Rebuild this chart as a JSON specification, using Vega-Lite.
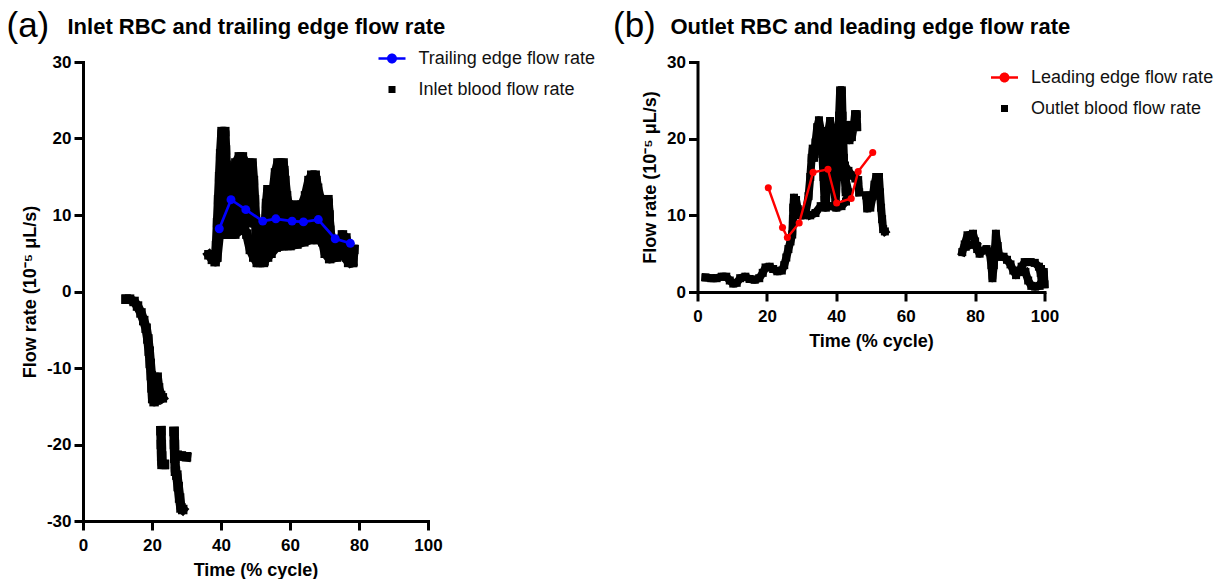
{
"$schema": "https://vega.github.io/schema/vega-lite/v6.json",
"background": "white",
"padding": {"left": 6, "top": 9, "right": 0, "bottom": 0},
"autosize": {"type": "pad"},
"config": {
  "view": {"stroke": null},
  "axis": {"domainColor": "#000", "domainWidth": 3, "domainCap": "square", "tickColor": "#000", "tickWidth": 3, "tickSize": 9, "labelFont": "Liberation Sans", "labelFontSize": 17, "labelFontWeight": "bold", "labelColor": "#000", "titleFont": "Liberation Sans", "titleFontSize": 18, "titleFontWeight": "bold", "titleColor": "#000", "grid": false, "labelFlush": false},
  "axisX": {"labelPadding": 7, "titlePadding": 8},
  "axisY": {"labelPadding": 3, "titlePadding": 7},
  "legend": {"labelFont": "Liberation Sans", "labelFontSize": 18, "labelColor": "#111", "labelLimit": 400, "symbolSize": 729, "labelOffset": 13, "rowPadding": 8, "padding": 0, "symbolStrokeWidth": 0},
  "title": {"font": "Liberation Sans", "fontSize": 35, "fontWeight": "normal", "color": "#000", "anchor": "start", "frame": "group"}
},
"datasets": {
  "a_k": [
    {"t":12.5,"v":-1.0,"s":"a1","k":"Inlet blood flow rate"},{"t":13.5,"v":-1.0,"s":"a1","k":"Inlet blood flow rate"},{"t":14.8,"v":-1.3,"s":"a1","k":"Inlet blood flow rate"},{"t":15.8,"v":-1.9,"s":"a1","k":"Inlet blood flow rate"},{"t":16.8,"v":-2.8,"s":"a1","k":"Inlet blood flow rate"},{"t":17.6,"v":-3.8,"s":"a1","k":"Inlet blood flow rate"},{"t":18.3,"v":-4.8,"s":"a1","k":"Inlet blood flow rate"},{"t":18.8,"v":-6.2,"s":"a1","k":"Inlet blood flow rate"},{"t":19.2,"v":-7.8,"s":"a1","k":"Inlet blood flow rate"},{"t":19.5,"v":-9.4,"s":"a1","k":"Inlet blood flow rate"},{"t":19.8,"v":-11.0,"s":"a1","k":"Inlet blood flow rate"},{"t":20.0,"v":-12.6,"s":"a1","k":"Inlet blood flow rate"},{"t":20.2,"v":-14.0,"s":"a1","k":"Inlet blood flow rate"},{"t":20.6,"v":-14.4,"s":"a1","k":"Inlet blood flow rate"},{"t":21.2,"v":-14.2,"s":"a1","k":"Inlet blood flow rate"},{"t":21.4,"v":-12.5,"s":"a1","k":"Inlet blood flow rate"},{"t":21.5,"v":-11.2,"s":"a1","k":"Inlet blood flow rate"},{"t":21.9,"v":-12.6,"s":"a1","k":"Inlet blood flow rate"},{"t":22.5,"v":-13.6,"s":"a1","k":"Inlet blood flow rate"},{"t":23.0,"v":-13.9,"s":"a1","k":"Inlet blood flow rate"},
    {"t":22.6,"v":-18.2,"s":"a2","k":"Inlet blood flow rate"},{"t":22.7,"v":-20.0,"s":"a2","k":"Inlet blood flow rate"},{"t":22.8,"v":-21.5,"s":"a2","k":"Inlet blood flow rate"},{"t":22.9,"v":-22.6,"s":"a2","k":"Inlet blood flow rate"},{"t":23.6,"v":-22.6,"s":"a2","k":"Inlet blood flow rate"},
    {"t":26.4,"v":-18.3,"s":"a3","k":"Inlet blood flow rate"},{"t":26.5,"v":-20.0,"s":"a3","k":"Inlet blood flow rate"},{"t":26.6,"v":-21.8,"s":"a3","k":"Inlet blood flow rate"},{"t":26.8,"v":-23.5,"s":"a3","k":"Inlet blood flow rate"},{"t":27.2,"v":-24.0,"s":"a3","k":"Inlet blood flow rate"},{"t":27.6,"v":-25.5,"s":"a3","k":"Inlet blood flow rate"},{"t":28.0,"v":-27.0,"s":"a3","k":"Inlet blood flow rate"},{"t":28.4,"v":-28.3,"s":"a3","k":"Inlet blood flow rate"},{"t":28.9,"v":-28.5,"s":"a3","k":"Inlet blood flow rate"},
    {"t":27.3,"v":-21.4,"s":"a4","k":"Inlet blood flow rate"},{"t":28.5,"v":-21.5,"s":"a4","k":"Inlet blood flow rate"},{"t":30.0,"v":-21.6,"s":"a4","k":"Inlet blood flow rate"},
    {"t":36.5,"v":4.8,"s":"a5","k":"Inlet blood flow rate"},{"t":37.5,"v":4.2,"s":"a5","k":"Inlet blood flow rate"},{"t":38.3,"v":3.9,"s":"a5","k":"Inlet blood flow rate"},{"t":38.7,"v":6.0,"s":"a5","k":"Inlet blood flow rate"},{"t":39.0,"v":9.0,"s":"a5","k":"Inlet blood flow rate"},{"t":39.3,"v":12.0,"s":"a5","k":"Inlet blood flow rate"},{"t":39.6,"v":15.0,"s":"a5","k":"Inlet blood flow rate"},{"t":39.9,"v":18.0,"s":"a5","k":"Inlet blood flow rate"},{"t":40.3,"v":20.9,"s":"a5","k":"Inlet blood flow rate"},{"t":41.1,"v":20.9,"s":"a5","k":"Inlet blood flow rate"},{"t":41.3,"v":18.5,"s":"a5","k":"Inlet blood flow rate"},{"t":41.5,"v":16.5,"s":"a5","k":"Inlet blood flow rate"},{"t":42.5,"v":15.5,"s":"a5","k":"Inlet blood flow rate"},{"t":43.5,"v":15.5,"s":"a5","k":"Inlet blood flow rate"},{"t":44.3,"v":16.8,"s":"a5","k":"Inlet blood flow rate"},{"t":45.3,"v":17.6,"s":"a5","k":"Inlet blood flow rate"},{"t":46.2,"v":17.6,"s":"a5","k":"Inlet blood flow rate"},{"t":47.0,"v":16.8,"s":"a5","k":"Inlet blood flow rate"},{"t":49.0,"v":16.8,"s":"a5","k":"Inlet blood flow rate"},{"t":49.4,"v":14.5,"s":"a5","k":"Inlet blood flow rate"},{"t":49.7,"v":12.0,"s":"a5","k":"Inlet blood flow rate"},{"t":50.0,"v":9.5,"s":"a5","k":"Inlet blood flow rate"},{"t":50.3,"v":7.0,"s":"a5","k":"Inlet blood flow rate"},{"t":50.6,"v":5.0,"s":"a5","k":"Inlet blood flow rate"},{"t":51.0,"v":3.8,"s":"a5","k":"Inlet blood flow rate"},{"t":52.3,"v":3.8,"s":"a5","k":"Inlet blood flow rate"},{"t":52.6,"v":6.0,"s":"a5","k":"Inlet blood flow rate"},{"t":52.9,"v":9.0,"s":"a5","k":"Inlet blood flow rate"},{"t":53.2,"v":11.5,"s":"a5","k":"Inlet blood flow rate"},{"t":53.6,"v":13.3,"s":"a5","k":"Inlet blood flow rate"},{"t":55.2,"v":13.3,"s":"a5","k":"Inlet blood flow rate"},{"t":55.8,"v":15.5,"s":"a5","k":"Inlet blood flow rate"},{"t":56.5,"v":16.8,"s":"a5","k":"Inlet blood flow rate"},{"t":58.0,"v":16.8,"s":"a5","k":"Inlet blood flow rate"},{"t":58.5,"v":14.5,"s":"a5","k":"Inlet blood flow rate"},{"t":59.0,"v":12.5,"s":"a5","k":"Inlet blood flow rate"},{"t":59.5,"v":11.3,"s":"a5","k":"Inlet blood flow rate"},{"t":63.5,"v":11.3,"s":"a5","k":"Inlet blood flow rate"},{"t":64.5,"v":12.5,"s":"a5","k":"Inlet blood flow rate"},{"t":65.5,"v":14.5,"s":"a5","k":"Inlet blood flow rate"},{"t":66.3,"v":15.2,"s":"a5","k":"Inlet blood flow rate"},{"t":67.3,"v":15.2,"s":"a5","k":"Inlet blood flow rate"},{"t":68.0,"v":13.5,"s":"a5","k":"Inlet blood flow rate"},{"t":68.8,"v":12.0,"s":"a5","k":"Inlet blood flow rate"},{"t":71.0,"v":12.0,"s":"a5","k":"Inlet blood flow rate"},{"t":71.3,"v":10.0,"s":"a5","k":"Inlet blood flow rate"},{"t":71.5,"v":8.0,"s":"a5","k":"Inlet blood flow rate"},{"t":72.5,"v":6.0,"s":"a5","k":"Inlet blood flow rate"},{"t":73.5,"v":5.5,"s":"a5","k":"Inlet blood flow rate"},{"t":74.5,"v":6.5,"s":"a5","k":"Inlet blood flow rate"},{"t":75.2,"v":7.4,"s":"a5","k":"Inlet blood flow rate"},{"t":76.2,"v":7.0,"s":"a5","k":"Inlet blood flow rate"},{"t":77.0,"v":5.5,"s":"a5","k":"Inlet blood flow rate"},{"t":77.5,"v":4.5,"s":"a5","k":"Inlet blood flow rate"},{"t":78.0,"v":3.8,"s":"a5","k":"Inlet blood flow rate"},
    {"t":38.8,"v":4.5,"s":"a6","k":"Inlet blood flow rate"},{"t":39.5,"v":7.5,"s":"a6","k":"Inlet blood flow rate"},{"t":41.0,"v":7.5,"s":"a6","k":"Inlet blood flow rate"},{"t":42.5,"v":7.5,"s":"a6","k":"Inlet blood flow rate"},{"t":44.0,"v":7.5,"s":"a6","k":"Inlet blood flow rate"},{"t":45.5,"v":8.0,"s":"a6","k":"Inlet blood flow rate"},{"t":46.5,"v":8.5,"s":"a6","k":"Inlet blood flow rate"},{"t":47.5,"v":7.5,"s":"a6","k":"Inlet blood flow rate"},{"t":48.5,"v":5.5,"s":"a6","k":"Inlet blood flow rate"},{"t":49.5,"v":4.5,"s":"a6","k":"Inlet blood flow rate"},{"t":50.5,"v":3.8,"s":"a6","k":"Inlet blood flow rate"},{"t":52.5,"v":4.0,"s":"a6","k":"Inlet blood flow rate"},{"t":53.5,"v":4.5,"s":"a6","k":"Inlet blood flow rate"},{"t":54.5,"v":5.0,"s":"a6","k":"Inlet blood flow rate"},{"t":56.0,"v":5.8,"s":"a6","k":"Inlet blood flow rate"},{"t":58.0,"v":6.0,"s":"a6","k":"Inlet blood flow rate"},{"t":60.0,"v":6.0,"s":"a6","k":"Inlet blood flow rate"},{"t":62.0,"v":6.2,"s":"a6","k":"Inlet blood flow rate"},{"t":64.0,"v":6.5,"s":"a6","k":"Inlet blood flow rate"},{"t":66.0,"v":6.8,"s":"a6","k":"Inlet blood flow rate"},{"t":68.0,"v":6.8,"s":"a6","k":"Inlet blood flow rate"},{"t":69.5,"v":6.5,"s":"a6","k":"Inlet blood flow rate"},{"t":70.2,"v":5.0,"s":"a6","k":"Inlet blood flow rate"},{"t":71.5,"v":4.3,"s":"a6","k":"Inlet blood flow rate"},{"t":73.5,"v":4.5,"s":"a6","k":"Inlet blood flow rate"},{"t":75.5,"v":4.8,"s":"a6","k":"Inlet blood flow rate"},{"t":77.0,"v":3.8,"s":"a6","k":"Inlet blood flow rate"},{"t":78.2,"v":3.8,"s":"a6","k":"Inlet blood flow rate"},{"t":78.5,"v":5.5,"s":"a6","k":"Inlet blood flow rate"},
    {"t":40.7,"v":8.0,"s":"a7","k":"Inlet blood flow rate"},{"t":40.7,"v":20.0,"s":"a7","k":"Inlet blood flow rate"},{"t":41.8,"v":9.0,"s":"a7","k":"Inlet blood flow rate"},{"t":42.3,"v":14.5,"s":"a7","k":"Inlet blood flow rate"},{"t":43.0,"v":8.5,"s":"a7","k":"Inlet blood flow rate"},{"t":44.5,"v":16.5,"s":"a7","k":"Inlet blood flow rate"},{"t":45.0,"v":9.0,"s":"a7","k":"Inlet blood flow rate"},{"t":46.5,"v":16.5,"s":"a7","k":"Inlet blood flow rate"},{"t":47.2,"v":9.5,"s":"a7","k":"Inlet blood flow rate"},{"t":48.2,"v":15.8,"s":"a7","k":"Inlet blood flow rate"},{"t":48.8,"v":9.0,"s":"a7","k":"Inlet blood flow rate"},{"t":49.2,"v":14.0,"s":"a7","k":"Inlet blood flow rate"},
    {"t":54.0,"v":5.5,"s":"a8","k":"Inlet blood flow rate"},{"t":54.5,"v":12.8,"s":"a8","k":"Inlet blood flow rate"},{"t":55.5,"v":6.0,"s":"a8","k":"Inlet blood flow rate"},{"t":57.0,"v":16.2,"s":"a8","k":"Inlet blood flow rate"},{"t":57.5,"v":6.0,"s":"a8","k":"Inlet blood flow rate"},{"t":58.2,"v":15.8,"s":"a8","k":"Inlet blood flow rate"},{"t":59.0,"v":6.5,"s":"a8","k":"Inlet blood flow rate"},{"t":60.5,"v":10.8,"s":"a8","k":"Inlet blood flow rate"},{"t":61.5,"v":6.5,"s":"a8","k":"Inlet blood flow rate"},{"t":62.5,"v":10.8,"s":"a8","k":"Inlet blood flow rate"},{"t":63.5,"v":7.0,"s":"a8","k":"Inlet blood flow rate"},{"t":64.5,"v":11.0,"s":"a8","k":"Inlet blood flow rate"},{"t":65.5,"v":7.2,"s":"a8","k":"Inlet blood flow rate"},{"t":66.3,"v":14.5,"s":"a8","k":"Inlet blood flow rate"},{"t":67.0,"v":7.3,"s":"a8","k":"Inlet blood flow rate"},{"t":67.5,"v":14.5,"s":"a8","k":"Inlet blood flow rate"},{"t":68.5,"v":7.3,"s":"a8","k":"Inlet blood flow rate"},{"t":69.5,"v":11.5,"s":"a8","k":"Inlet blood flow rate"},{"t":70.3,"v":7.0,"s":"a8","k":"Inlet blood flow rate"},{"t":71.0,"v":11.5,"s":"a8","k":"Inlet blood flow rate"},{"t":72.0,"v":5.5,"s":"a8","k":"Inlet blood flow rate"},{"t":74.0,"v":6.5,"s":"a8","k":"Inlet blood flow rate"},{"t":75.5,"v":5.5,"s":"a8","k":"Inlet blood flow rate"},{"t":76.5,"v":4.5,"s":"a8","k":"Inlet blood flow rate"}
  ],
  "a_b": [
    {"t":39.5,"v":8.2},{"t":42.9,"v":12.0},{"t":47.2,"v":10.7},{"t":52.1,"v":9.2},{"t":55.9,"v":9.5},{"t":60.6,"v":9.2},{"t":63.9,"v":9.1},{"t":68.2,"v":9.4},{"t":73.1,"v":6.9},{"t":77.5,"v":6.3}
  ],
  "b_k": [
    {"t":2.3,"v":1.9,"s":"b1","k":"Outlet blood flow rate"},{"t":4.0,"v":1.8,"s":"b1","k":"Outlet blood flow rate"},{"t":5.5,"v":1.8,"s":"b1","k":"Outlet blood flow rate"},{"t":7.0,"v":2.0,"s":"b1","k":"Outlet blood flow rate"},{"t":8.3,"v":2.0,"s":"b1","k":"Outlet blood flow rate"},{"t":9.3,"v":1.5,"s":"b1","k":"Outlet blood flow rate"},{"t":10.3,"v":1.1,"s":"b1","k":"Outlet blood flow rate"},{"t":11.3,"v":1.2,"s":"b1","k":"Outlet blood flow rate"},{"t":12.3,"v":1.8,"s":"b1","k":"Outlet blood flow rate"},{"t":13.8,"v":2.0,"s":"b1","k":"Outlet blood flow rate"},{"t":15.0,"v":1.7,"s":"b1","k":"Outlet blood flow rate"},{"t":16.5,"v":1.6,"s":"b1","k":"Outlet blood flow rate"},{"t":17.8,"v":1.8,"s":"b1","k":"Outlet blood flow rate"},{"t":18.8,"v":2.5,"s":"b1","k":"Outlet blood flow rate"},{"t":19.6,"v":3.2,"s":"b1","k":"Outlet blood flow rate"},{"t":20.8,"v":3.3,"s":"b1","k":"Outlet blood flow rate"},{"t":21.8,"v":3.0,"s":"b1","k":"Outlet blood flow rate"},{"t":23.0,"v":2.7,"s":"b1","k":"Outlet blood flow rate"},{"t":24.3,"v":2.8,"s":"b1","k":"Outlet blood flow rate"},{"t":25.0,"v":3.5,"s":"b1","k":"Outlet blood flow rate"},{"t":25.6,"v":4.5,"s":"b1","k":"Outlet blood flow rate"},{"t":26.2,"v":5.6,"s":"b1","k":"Outlet blood flow rate"},{"t":26.8,"v":6.6,"s":"b1","k":"Outlet blood flow rate"},{"t":27.3,"v":7.5,"s":"b1","k":"Outlet blood flow rate"},{"t":27.5,"v":9.5,"s":"b1","k":"Outlet blood flow rate"},{"t":27.6,"v":11.0,"s":"b1","k":"Outlet blood flow rate"},{"t":27.8,"v":12.3,"s":"b1","k":"Outlet blood flow rate"},{"t":28.4,"v":12.0,"s":"b1","k":"Outlet blood flow rate"},{"t":28.9,"v":10.8,"s":"b1","k":"Outlet blood flow rate"},{"t":29.6,"v":10.0,"s":"b1","k":"Outlet blood flow rate"},{"t":30.5,"v":10.0,"s":"b1","k":"Outlet blood flow rate"},{"t":31.2,"v":10.5,"s":"b1","k":"Outlet blood flow rate"},{"t":32.0,"v":12.5,"s":"b1","k":"Outlet blood flow rate"},{"t":32.5,"v":15.0,"s":"b1","k":"Outlet blood flow rate"},{"t":32.9,"v":17.5,"s":"b1","k":"Outlet blood flow rate"},{"t":33.2,"v":18.7,"s":"b1","k":"Outlet blood flow rate"},{"t":33.6,"v":17.5,"s":"b1","k":"Outlet blood flow rate"},{"t":34.0,"v":19.5,"s":"b1","k":"Outlet blood flow rate"},{"t":34.5,"v":21.5,"s":"b1","k":"Outlet blood flow rate"},{"t":35.0,"v":22.4,"s":"b1","k":"Outlet blood flow rate"},{"t":35.6,"v":21.0,"s":"b1","k":"Outlet blood flow rate"},{"t":36.0,"v":18.0,"s":"b1","k":"Outlet blood flow rate"},{"t":36.3,"v":15.0,"s":"b1","k":"Outlet blood flow rate"},{"t":36.6,"v":12.0,"s":"b1","k":"Outlet blood flow rate"},{"t":37.0,"v":11.0,"s":"b1","k":"Outlet blood flow rate"},{"t":37.3,"v":14.0,"s":"b1","k":"Outlet blood flow rate"},{"t":37.5,"v":18.0,"s":"b1","k":"Outlet blood flow rate"},{"t":37.7,"v":21.0,"s":"b1","k":"Outlet blood flow rate"},{"t":38.2,"v":22.3,"s":"b1","k":"Outlet blood flow rate"},{"t":38.8,"v":21.0,"s":"b1","k":"Outlet blood flow rate"},{"t":39.1,"v":17.0,"s":"b1","k":"Outlet blood flow rate"},{"t":39.4,"v":13.5,"s":"b1","k":"Outlet blood flow rate"},{"t":39.8,"v":11.5,"s":"b1","k":"Outlet blood flow rate"},{"t":40.2,"v":15.0,"s":"b1","k":"Outlet blood flow rate"},{"t":40.5,"v":19.0,"s":"b1","k":"Outlet blood flow rate"},{"t":40.8,"v":23.0,"s":"b1","k":"Outlet blood flow rate"},{"t":41.1,"v":26.3,"s":"b1","k":"Outlet blood flow rate"},{"t":41.6,"v":26.3,"s":"b1","k":"Outlet blood flow rate"},{"t":41.8,"v":23.0,"s":"b1","k":"Outlet blood flow rate"},{"t":42.0,"v":20.0,"s":"b1","k":"Outlet blood flow rate"},{"t":42.2,"v":17.5,"s":"b1","k":"Outlet blood flow rate"},{"t":42.4,"v":15.0,"s":"b1","k":"Outlet blood flow rate"},{"t":42.7,"v":13.0,"s":"b1","k":"Outlet blood flow rate"},{"t":43.5,"v":12.5,"s":"b1","k":"Outlet blood flow rate"},
    {"t":43.6,"v":21.8,"s":"b3","k":"Outlet blood flow rate"},{"t":43.8,"v":19.8,"s":"b3","k":"Outlet blood flow rate"},{"t":44.5,"v":20.2,"s":"b3","k":"Outlet blood flow rate"},{"t":45.0,"v":21.5,"s":"b3","k":"Outlet blood flow rate"},{"t":45.4,"v":23.2,"s":"b3","k":"Outlet blood flow rate"},{"t":45.9,"v":23.2,"s":"b3","k":"Outlet blood flow rate"},{"t":46.0,"v":21.5,"s":"b3","k":"Outlet blood flow rate"},
    {"t":32.5,"v":10.0,"s":"b4","k":"Outlet blood flow rate"},{"t":34.0,"v":10.3,"s":"b4","k":"Outlet blood flow rate"},{"t":35.5,"v":11.2,"s":"b4","k":"Outlet blood flow rate"},{"t":37.0,"v":11.2,"s":"b4","k":"Outlet blood flow rate"},{"t":38.5,"v":11.2,"s":"b4","k":"Outlet blood flow rate"},{"t":40.0,"v":11.0,"s":"b4","k":"Outlet blood flow rate"},{"t":41.5,"v":11.2,"s":"b4","k":"Outlet blood flow rate"},{"t":42.8,"v":11.8,"s":"b4","k":"Outlet blood flow rate"},{"t":43.5,"v":13.0,"s":"b4","k":"Outlet blood flow rate"},{"t":42.8,"v":14.5,"s":"b4","k":"Outlet blood flow rate"},{"t":42.5,"v":16.5,"s":"b4","k":"Outlet blood flow rate"},{"t":43.5,"v":15.8,"s":"b4","k":"Outlet blood flow rate"},{"t":44.5,"v":15.2,"s":"b4","k":"Outlet blood flow rate"},{"t":45.5,"v":14.8,"s":"b4","k":"Outlet blood flow rate"},{"t":46.3,"v":14.6,"s":"b4","k":"Outlet blood flow rate"},{"t":46.6,"v":13.0,"s":"b4","k":"Outlet blood flow rate"},
    {"t":48.6,"v":12.6,"s":"b5","k":"Outlet blood flow rate"},{"t":48.9,"v":10.9,"s":"b5","k":"Outlet blood flow rate"},{"t":49.8,"v":11.0,"s":"b5","k":"Outlet blood flow rate"},{"t":50.5,"v":12.5,"s":"b5","k":"Outlet blood flow rate"},{"t":51.0,"v":14.0,"s":"b5","k":"Outlet blood flow rate"},{"t":51.5,"v":15.0,"s":"b5","k":"Outlet blood flow rate"},{"t":52.3,"v":15.0,"s":"b5","k":"Outlet blood flow rate"},{"t":52.6,"v":13.0,"s":"b5","k":"Outlet blood flow rate"},{"t":52.9,"v":11.0,"s":"b5","k":"Outlet blood flow rate"},{"t":53.2,"v":9.5,"s":"b5","k":"Outlet blood flow rate"},{"t":53.5,"v":8.2,"s":"b5","k":"Outlet blood flow rate"},{"t":54.0,"v":7.9,"s":"b5","k":"Outlet blood flow rate"},
    {"t":76.3,"v":5.2,"s":"b6","k":"Outlet blood flow rate"},{"t":77.0,"v":6.2,"s":"b6","k":"Outlet blood flow rate"},{"t":77.8,"v":7.4,"s":"b6","k":"Outlet blood flow rate"},{"t":79.4,"v":7.6,"s":"b6","k":"Outlet blood flow rate"},{"t":80.0,"v":6.6,"s":"b6","k":"Outlet blood flow rate"},{"t":80.6,"v":5.6,"s":"b6","k":"Outlet blood flow rate"},{"t":81.3,"v":5.0,"s":"b6","k":"Outlet blood flow rate"},{"t":82.2,"v":5.4,"s":"b6","k":"Outlet blood flow rate"},{"t":83.3,"v":5.6,"s":"b6","k":"Outlet blood flow rate"},{"t":84.2,"v":5.2,"s":"b6","k":"Outlet blood flow rate"},{"t":84.7,"v":3.5,"s":"b6","k":"Outlet blood flow rate"},{"t":85.0,"v":1.8,"s":"b6","k":"Outlet blood flow rate"},{"t":85.4,"v":3.5,"s":"b6","k":"Outlet blood flow rate"},{"t":85.7,"v":5.5,"s":"b6","k":"Outlet blood flow rate"},{"t":86.0,"v":7.6,"s":"b6","k":"Outlet blood flow rate"},{"t":86.5,"v":6.0,"s":"b6","k":"Outlet blood flow rate"},{"t":87.0,"v":4.6,"s":"b6","k":"Outlet blood flow rate"},{"t":88.2,"v":4.6,"s":"b6","k":"Outlet blood flow rate"},{"t":89.2,"v":4.2,"s":"b6","k":"Outlet blood flow rate"},{"t":90.2,"v":3.6,"s":"b6","k":"Outlet blood flow rate"},{"t":91.0,"v":2.8,"s":"b6","k":"Outlet blood flow rate"},{"t":91.8,"v":2.2,"s":"b6","k":"Outlet blood flow rate"},{"t":92.6,"v":2.6,"s":"b6","k":"Outlet blood flow rate"},{"t":93.4,"v":3.3,"s":"b6","k":"Outlet blood flow rate"},{"t":94.3,"v":3.9,"s":"b6","k":"Outlet blood flow rate"},{"t":96.0,"v":3.9,"s":"b6","k":"Outlet blood flow rate"},{"t":97.2,"v":3.8,"s":"b6","k":"Outlet blood flow rate"},{"t":98.4,"v":3.3,"s":"b6","k":"Outlet blood flow rate"},{"t":98.9,"v":2.5,"s":"b6","k":"Outlet blood flow rate"},{"t":99.2,"v":1.5,"s":"b6","k":"Outlet blood flow rate"},{"t":98.6,"v":0.8,"s":"b6","k":"Outlet blood flow rate"},{"t":97.3,"v":0.7,"s":"b6","k":"Outlet blood flow rate"},{"t":96.2,"v":0.8,"s":"b6","k":"Outlet blood flow rate"},{"t":95.3,"v":1.5,"s":"b6","k":"Outlet blood flow rate"},{"t":94.5,"v":2.6,"s":"b6","k":"Outlet blood flow rate"},
    {"t":99.0,"v":3.0,"s":"b7","k":"Outlet blood flow rate"},{"t":99.8,"v":2.6,"s":"b7","k":"Outlet blood flow rate"},{"t":100.0,"v":1.0,"s":"b7","k":"Outlet blood flow rate"},
    {"t":77.3,"v":5.9,"s":"b8","k":"Outlet blood flow rate"},{"t":79.0,"v":6.2,"s":"b8","k":"Outlet blood flow rate"},{"t":80.5,"v":6.0,"s":"b8","k":"Outlet blood flow rate"}
  ],
  "b_r": [
    {"t":20.4,"v":13.6},{"t":24.5,"v":8.4},{"t":25.9,"v":7.1},{"t":29.3,"v":9.0},{"t":33.3,"v":15.6},{"t":37.6,"v":16.0},{"t":40.1,"v":11.6},{"t":44.3,"v":12.2},{"t":46.3,"v":15.7},{"t":50.5,"v":18.2}
  ]
},
"spacing": 16.5,
"resolve": {"scale": {"color": "independent", "shape": "independent", "x": "independent", "y": "independent"}, "legend": {"color": "independent", "shape": "independent"}},
"hconcat": [
  {
    "width": 345, "height": 459,
    "title": {"text": "(a)", "dx": -76.5, "offset": -29.4},
    "resolve": {"axis": {"x": "independent"}},
    "encoding": {
      "y": {"field": "v", "type": "quantitative", "scale": {"domain": [-30, 30], "nice": false}, "axis": {"values": [-30, -20, -10, 0, 10, 20, 30], "title": "Flow rate (10⁻⁵ μL/s)", "labelExpr": "'' + datum.value"}}
    },
    "layer": [
      {"data": {"name": "a_k"}, "mark": {"type": "line", "color": "#000", "strokeWidth": 9.5, "strokeCap": "square", "strokeJoin": "round"},
       "encoding": {"x": {"field": "t", "type": "quantitative", "scale": {"domain": [0, 100], "nice": false, "zero": false}, "axis": {"values": [0, 20, 40, 60, 80, 100], "title": "Time (% cycle)", "labelExpr": "'' + datum.value"}}, "detail": {"field": "s"}, "order": {"value": null}}},
      {"data": {"name": "a_k"}, "mark": {"type": "point", "filled": true, "opacity": 1, "size": 1335},
       "encoding": {
         "x": {"field": "t", "type": "quantitative", "scale": {"domain": [0, 100], "nice": false, "zero": false}, "axis": null},
         "color": {"field": "k", "type": "nominal", "scale": {"domain": ["Trailing edge flow rate", "Inlet blood flow rate"], "range": ["#0000ff", "#000000"]}, "legend": {"title": null, "orient": "none", "legendX": 295.5, "legendY": -17}},
         "shape": {"field": "k", "type": "nominal", "scale": {"domain": ["Trailing edge flow rate", "Inlet blood flow rate"], "range": ["M-1,-0.1H1V0.1H-1Z M-0.37,0A0.37,0.37 0 1,1 0.37,0A0.37,0.37 0 1,1 -0.37,0Z", "M-0.26,-0.26H0.26V0.26H-0.26Z"]}, "legend": {"title": null, "orient": "none", "legendX": 295.5, "legendY": -17}}
       }},
      {"data": {"values": [{}]}, "mark": {"type": "rule", "color": "#000", "strokeWidth": 2, "strokeDash": [2, 4.6]}, "encoding": {"x": {"datum": 1.5, "axis": null}, "x2": {"datum": 98.5}, "y": {"datum": 0}}},
      {"data": {"name": "a_b"}, "mark": {"type": "line", "color": "#0000ff", "strokeWidth": 2.7},
       "encoding": {"x": {"field": "t", "type": "quantitative", "scale": {"domain": [0, 100], "nice": false, "zero": false}, "axis": null}}},
      {"data": {"name": "a_b"}, "mark": {"type": "point", "filled": true, "opacity": 1, "shape": "circle", "size": 80, "color": "#0000ff"},
       "encoding": {"x": {"field": "t", "type": "quantitative", "scale": {"domain": [0, 100], "nice": false, "zero": false}, "axis": {"orient": "top", "title": "Inlet RBC and trailing edge flow rate", "labels": false, "ticks": false, "domain": false, "grid": false, "titleX": -16, "titleY": -29, "titleAlign": "left", "titleBaseline": "alphabetic", "titleAngle": 0, "titleFontSize": 22, "titleFontWeight": "bold"}}}}
    ]
  },
  {
    "width": 347, "height": 230,
    "title": {"text": "(b)", "dx": -84.5, "offset": -29.4},
    "resolve": {"axis": {"x": "independent"}},
    "encoding": {
      "y": {"field": "v", "type": "quantitative", "scale": {"domain": [0, 30], "nice": false}, "axis": {"values": [0, 10, 20, 30], "title": "Flow rate (10⁻⁵ μL/s)", "labelExpr": "'' + datum.value"}}
    },
    "layer": [
      {"data": {"name": "b_k"}, "mark": {"type": "line", "color": "#000", "strokeWidth": 8, "strokeCap": "square", "strokeJoin": "round"},
       "encoding": {"x": {"field": "t", "type": "quantitative", "scale": {"domain": [0, 100], "nice": false, "zero": false}, "axis": {"values": [0, 20, 40, 60, 80, 100], "title": "Time (% cycle)", "labelExpr": "'' + datum.value"}}, "detail": {"field": "s"}, "order": {"value": null}}},
      {"data": {"name": "b_k"}, "mark": {"type": "point", "filled": true, "opacity": 1, "size": 947},
       "encoding": {
         "x": {"field": "t", "type": "quantitative", "scale": {"domain": [0, 100], "nice": false, "zero": false}, "axis": null},
         "color": {"field": "k", "type": "nominal", "scale": {"domain": ["Leading edge flow rate", "Outlet blood flow rate"], "range": ["#ff0000", "#000000"]}, "legend": {"title": null, "orient": "none", "legendX": 293.5, "legendY": 2}},
         "shape": {"field": "k", "type": "nominal", "scale": {"domain": ["Leading edge flow rate", "Outlet blood flow rate"], "range": ["M-1,-0.1H1V0.1H-1Z M-0.37,0A0.37,0.37 0 1,1 0.37,0A0.37,0.37 0 1,1 -0.37,0Z", "M-0.26,-0.26H0.26V0.26H-0.26Z"]}, "legend": {"title": null, "orient": "none", "legendX": 293.5, "legendY": 2}}
       }},
      {"data": {"name": "b_r"}, "mark": {"type": "line", "color": "#ff0000", "strokeWidth": 2.4},
       "encoding": {"x": {"field": "t", "type": "quantitative", "scale": {"domain": [0, 100], "nice": false, "zero": false}, "axis": null}}},
      {"data": {"name": "b_r"}, "mark": {"type": "point", "filled": true, "opacity": 1, "shape": "circle", "size": 50, "color": "#ff0000"},
       "encoding": {"x": {"field": "t", "type": "quantitative", "scale": {"domain": [0, 100], "nice": false, "zero": false}, "axis": {"orient": "top", "title": "Outlet RBC and leading edge flow rate", "labels": false, "ticks": false, "domain": false, "grid": false, "titleX": -27.5, "titleY": -29, "titleAlign": "left", "titleBaseline": "alphabetic", "titleAngle": 0, "titleFontSize": 22, "titleFontWeight": "bold"}}}}
    ]
  }
]
}
